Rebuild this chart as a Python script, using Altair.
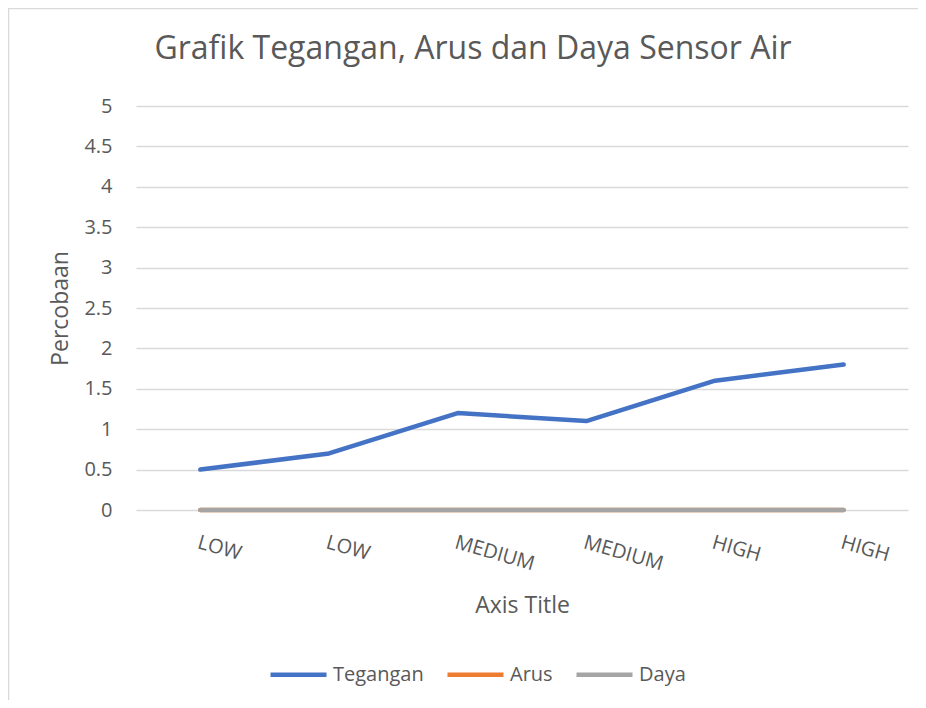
import altair as alt
import pandas as pd

categories = ["LOW", "LOW", "MEDIUM", "MEDIUM", "HIGH", "HIGH"]
tegangan = [0.5, 0.7, 1.2, 1.1, 1.6, 1.8]
arus = [0, 0, 0, 0, 0, 0]
daya = [0, 0, 0, 0, 0, 0]
series_names = ["Tegangan", "Arus", "Daya"]
series_colors = ["#4472C4", "#ED7D31", "#A5A5A5"]
y_ticks = [0, 0.5, 1, 1.5, 2, 2.5, 3, 3.5, 4, 4.5, 5]

rows = []
for name, vals in zip(series_names, [tegangan, arus, daya]):
    for i, (c, v) in enumerate(zip(categories, vals)):
        rows.append({"idx": i, "cat": c, "series": name, "value": v})
df = pd.DataFrame(rows)

FONT = "Open Sans"
TXT = "#595959"
W, H = 772, 404
PL, PT = 128, 98
TOTAL_W, TOTAL_H = 910, 692

label_expr = "[" + ",".join(f"'{c}'" for c in categories) + "][datum.value]"

x_enc = alt.X(
    "idx:O",
    scale=alt.Scale(type="point", padding=0.5),
    axis=alt.Axis(
        title="Axis Title",
        labelExpr=label_expr,
        labelAngle=16,
        labelAlign="left",
        labelBaseline="top",
        labelPadding=22,
        labelFontSize=20,
        labelColor=TXT,
        labelFont=FONT,
        titleFontSize=23,
        titleFont=FONT,
        titleColor=TXT,
        titleFontWeight="normal",
        titlePadding=21,
        domain=False,
        ticks=False,
        grid=False,
    ),
)
y_enc = alt.Y(
    "value:Q",
    scale=alt.Scale(domain=[0, 5], nice=False, zero=True),
    axis=alt.Axis(
        title="Percobaan",
        values=y_ticks,
        labelExpr="format(datum.value, '~g')",
        labelFontSize=20,
        labelFont=FONT,
        labelColor=TXT,
        labelPadding=24,
        titleFontSize=23,
        titleFont=FONT,
        titleColor=TXT,
        titleFontWeight="normal",
        titlePadding=11,
        domain=False,
        ticks=False,
        grid=True,
        gridColor="#D9D9D9",
        gridWidth=1.3,
    ),
)
color_enc = alt.Color(
    "series:N",
    scale=alt.Scale(domain=series_names, range=series_colors),
    legend=alt.Legend(
        title=None,
        orient="none",
        direction="horizontal",
        legendX=132,
        legendY=538,
        symbolType="stroke",
        symbolSize=3136,
        symbolStrokeWidth=4.5,
        labelFontSize=20,
        labelFont=FONT,
        labelColor=TXT,
        labelOffset=4,
        columnPadding=14,
        padding=0,
    ),
)

layers = []
for name in series_names:
    layers.append(
        alt.Chart(df)
        .transform_filter(alt.datum.series == name)
        .mark_line(strokeWidth=4.5, strokeCap="round", strokeJoin="round")
        .encode(x=x_enc, y=y_enc, color=color_enc)
    )

frame_df = pd.DataFrame({"a": [0]})
top_border = alt.Chart(frame_df).mark_rule(color="#D9D9D9", strokeWidth=1.5).encode(
    x=alt.value(-PL), x2=alt.value(TOTAL_W - PL), y=alt.value(-PT + 0.5)
)
left_border = alt.Chart(frame_df).mark_rule(color="#D9D9D9", strokeWidth=1.5).encode(
    x=alt.value(-PL + 0.5), y=alt.value(-PT), y2=alt.value(TOTAL_H - PT)
)

chart = (
    alt.layer(*layers, top_border, left_border)
    .properties(
        width=W,
        height=H,
        title=alt.TitleParams(
            text="Grafik Tegangan, Arus dan Daya Sensor Air",
            fontSize=32,
            font=FONT,
            color=TXT,
            fontWeight="normal",
            anchor="middle",
            baseline="alphabetic",
            dx=-49,
            offset=-84,
        ),
        autosize=alt.AutoSizeParams(type="none"),
        padding={"left": PL, "top": PT, "right": TOTAL_W - PL - W, "bottom": TOTAL_H - PT - H},
    )
    .configure(background="white")
    .configure_view(stroke=None)
)

chart.save("out.html", embed_options={"renderer": "svg", "actions": False})
